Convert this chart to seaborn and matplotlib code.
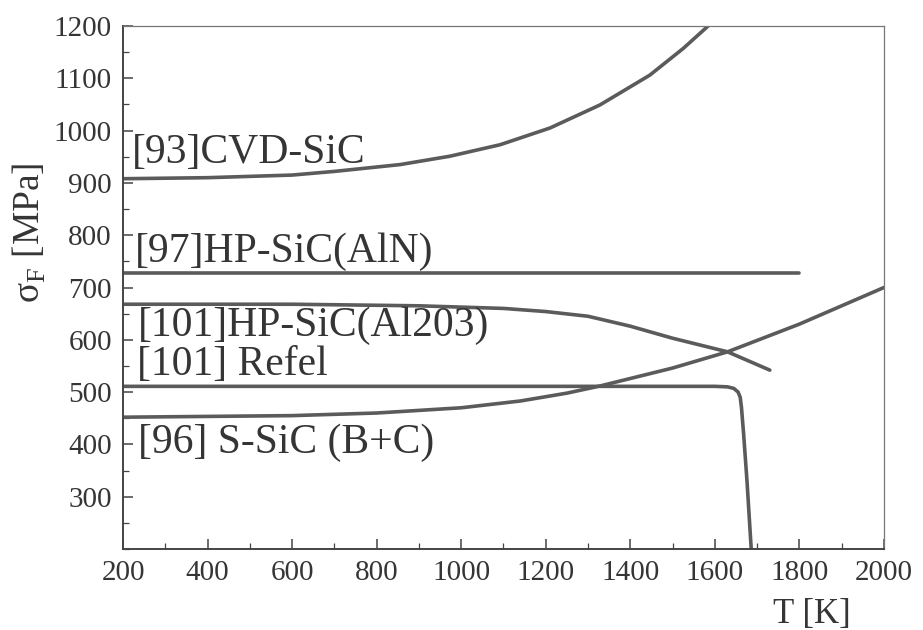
import numpy as np
import pandas as pd
import matplotlib
matplotlib.use("Agg")
import matplotlib.pyplot as plt
from matplotlib.ticker import MultipleLocator
import seaborn as sns

# ------------------------
#  Data (T in K, sigma_F in MPa)
# ------------------------
cvd_T = [200, 400, 600, 700, 855, 973, 1092, 1210, 1328, 1446, 1525, 1584]
cvd_s = [908, 910, 915, 922, 935, 951, 973, 1005, 1049, 1106, 1157, 1200]

aln_T = [200, 1800]
aln_s = [727, 727]

al2o3_T = [200, 600, 900, 1100, 1200, 1300, 1400, 1500, 1630, 1730]
al2o3_s = [668, 668, 665, 660, 654, 645, 626, 603, 577, 542]

refel_T = [200, 1000, 1600, 1630, 1645, 1655, 1660, 1663, 1668, 1676, 1686]
refel_s = [511, 511, 511, 510, 507, 500, 490, 470, 420, 330, 200]

ssic_T = [200, 600, 800, 1000, 1140, 1250, 1330, 1420, 1500, 1630, 1800, 2000]
ssic_s = [452, 455, 460, 470, 483, 498, 512, 530, 546, 577, 630, 700]

labels = ["[93]CVD-SiC", "[97]HP-SiC(AlN)", "[101]HP-SiC(Al203)",
          "[101] Refel", "[96] S-SiC (B+C)"]
label_T = [222, 228, 234, 234, 236]
label_s = [958, 769, 627, 553, 404]

x_ticks = [200, 400, 600, 800, 1000, 1200, 1400, 1600, 1800, 2000]
y_ticks = [300, 400, 500, 600, 700, 800, 900, 1000, 1100, 1200]

# ------------------------
#  Style
# ------------------------
sns.set_theme(style="ticks")
plt.rcParams["font.family"] = ["Liberation Serif", "DejaVu Serif"]
plt.rcParams["mathtext.fontset"] = "custom"
plt.rcParams["mathtext.rm"] = "Liberation Serif"

line_col = "#5b5b5b"
text_col = "#353535"

fig = plt.figure(figsize=(9.23, 6.3), dpi=100)
ax = fig.add_axes([0.1333, 0.1286, 0.8244, 0.8301])

for T, s in [(cvd_T, cvd_s), (aln_T, aln_s), (al2o3_T, al2o3_s),
             (refel_T, refel_s), (ssic_T, ssic_s)]:
    sns.lineplot(x=T, y=s, ax=ax, color=line_col, lw=2.6,
                 sort=False, estimator=None)

for txt, t, s in zip(labels, label_T, label_s):
    ax.text(t, s, txt, fontsize=30, color=text_col, va="center", ha="left")

ax.set_xlim(200, 2000)
ax.set_ylim(200, 1200)
ax.set_xticks(x_ticks)
ax.set_yticks(y_ticks)
ax.xaxis.set_minor_locator(MultipleLocator(100))
ax.yaxis.set_minor_locator(MultipleLocator(50))
ax.tick_params(which="both", direction="in", colors="#444444",
               labelcolor=text_col, labelsize=21, top=False, right=False)
ax.tick_params(which="major", length=7, width=1.1, pad=8)
ax.tick_params(which="minor", length=4, width=0.9)

for side in ["left", "bottom"]:
    ax.spines[side].set_color("#444444")
    ax.spines[side].set_linewidth(1.4)
for side in ["top", "right"]:
    ax.spines[side].set_color("#777777")
    ax.spines[side].set_linewidth(0.9)

ax.set_xlabel("")
ax.set_ylabel("σ$_\\mathrm{F}$ [MPa]", fontsize=27, color=text_col)
ax.yaxis.set_label_coords(-0.098, 0.605)
fig.text(812 / 923, 1 - 614 / 630, "T [K]", fontsize=25, color=text_col,
         ha="center", va="center")

fig.savefig("out.png", dpi=100)
